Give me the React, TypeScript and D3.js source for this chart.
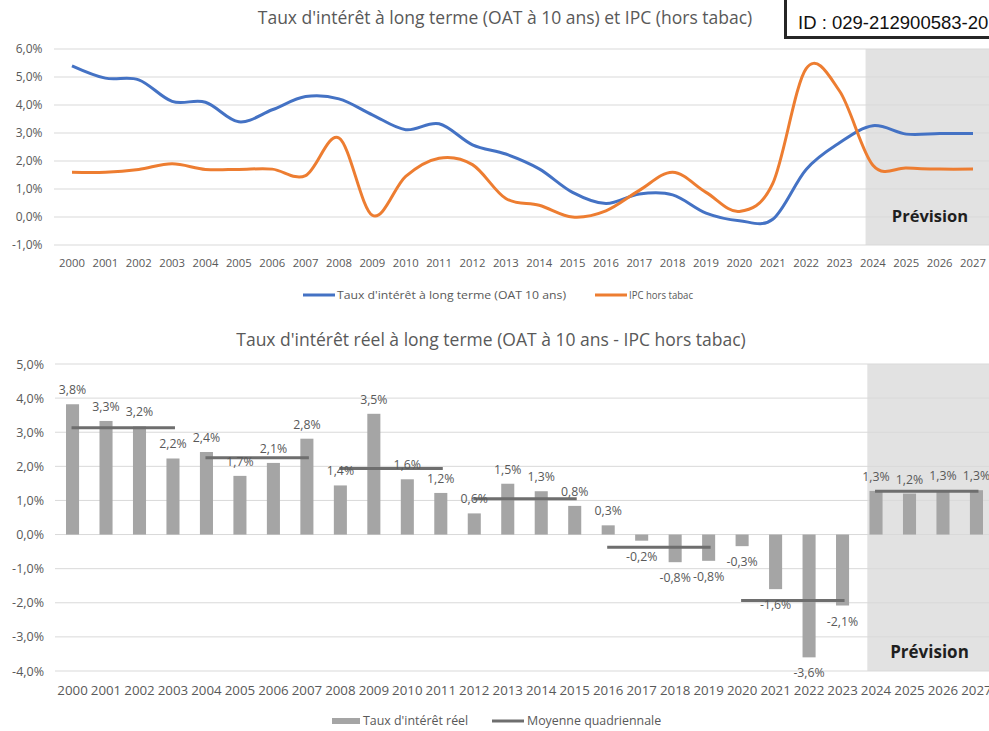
import React from 'react'
import * as d3 from 'd3'

// années (axe des abscisses commun aux deux graphiques)
const years = d3.range(2000, 2028).map(String)
const forecastStart = '2024'

// graphique du haut : OAT 10 ans et IPC hors tabac (en %)
const oat = [5.4, 4.96, 4.9, 4.13, 4.1, 3.4, 3.83, 4.3, 4.22, 3.65, 3.12, 3.33, 2.58, 2.25, 1.72, 0.88, 0.48, 0.82, 0.79, 0.14, -0.13, -0.08, 1.7, 2.65, 3.26, 2.96, 2.98, 2.98]
const ipc = [1.6, 1.6, 1.7, 1.9, 1.7, 1.7, 1.71, 1.48, 2.82, 0.06, 1.45, 2.1, 1.87, 0.66, 0.42, 0.0, 0.22, 0.95, 1.6, 0.88, 0.2, 1.2, 5.3, 4.5, 1.85, 1.75, 1.71, 1.71]
const topTicks = [-1, 0, 1, 2, 3, 4, 5, 6]

// graphique du bas : taux réel et moyenne sur 4 ans
const reel = [3.82, 3.33, 3.17, 2.23, 2.42, 1.72, 2.1, 2.81, 1.44, 3.54, 1.62, 1.22, 0.62, 1.49, 1.27, 0.84, 0.27, -0.18, -0.81, -0.77, -0.34, -1.6, -3.6, -2.08, 1.28, 1.2, 1.3, 1.3]
const moyenne = [3.13, 2.25, 1.94, 1.05, -0.37, -1.93, 1.27]
const bottomTicks = [-4, -3, -2, -1, 0, 1, 2, 3, 4, 5]

const TXT = '#595959'
const GRID = '#d9d9d9'
const SHADE = '#e2e2e2'
const FONT = "'Open Sans', sans-serif"

const pct = (v: number) => v.toFixed(1).replace('.', ',') + '%'

const TopChart: React.FC = () => {
    const x = d3.scaleBand().domain(years).range([55.3, 989.7])
    const cx = (d: string) => (x(d) || 0) + x.bandwidth() / 2
    const y = d3.scaleLinear().domain([-1, 6]).range([245, 49])
    const line = d3
        .line<number>()
        .x((_, i) => cx(years[i]))
        .y((d) => y(d))
        .curve(d3.curveCatmullRom.alpha(0))
    const shadeX = (x(forecastStart) || 0) + x.step() * 0.28

    return (
        <g>
            <text x={505} y={24} textAnchor="middle" fontSize={17.5} fill={TXT} fontFamily={FONT}>
                Taux d'intérêt à long terme (OAT à 10 ans) et IPC (hors tabac)
            </text>
            <rect x={shadeX} y={y(6)} width={989 - shadeX} height={y(-1) - y(6)} fill={SHADE} />
            {topTicks.map((t) => (
                <g key={t}>
                    <line x1={54} x2={989} y1={y(t)} y2={y(t)} stroke={GRID} strokeWidth={1} />
                    <text x={42.5} y={y(t) + 4.3} textAnchor="end" fontSize={12} fill={TXT} fontFamily={FONT}>
                        {pct(t)}
                    </text>
                </g>
            ))}
            {years.map((d) => (
                <text key={d} x={cx(d)} y={267} textAnchor="middle" fontSize={11.3} fill={TXT} fontFamily={FONT}>
                    {d}
                </text>
            ))}
            <text x={930} y={222} textAnchor="middle" fontSize={16.5} fontWeight="bold" fill="#1f1f1f" fontFamily={FONT}>
                Prévision
            </text>
            <path d={line(oat) || ''} fill="none" stroke="#4472c4" strokeWidth={3} />
            <path d={line(ipc) || ''} fill="none" stroke="#ed7d31" strokeWidth={3} />

            {/* légende */}
            <line x1={303} x2={335} y1={295} y2={295} stroke="#4472c4" strokeWidth={3} />
            <text x={337} y={299} fontSize={11.5} fill={TXT} fontFamily={FONT} textLength={229} lengthAdjust="spacingAndGlyphs">
                Taux d'intérêt à long terme (OAT 10 ans)
            </text>
            <line x1={595} x2={627} y1={295} y2={295} stroke="#ed7d31" strokeWidth={3} />
            <text x={629} y={299} fontSize={11.5} fill={TXT} fontFamily={FONT} textLength={64} lengthAdjust="spacingAndGlyphs">
                IPC hors tabac
            </text>
        </g>
    )
}

const BottomChart: React.FC = () => {
    const x = d3.scaleBand().domain(years).range([55.8, 993.2])
    const cx = (d: string) => (x(d) || 0) + x.bandwidth() / 2
    const barW = x.step() * 0.39
    const y = d3.scaleLinear().domain([-4, 5]).range([671, 364])
    const shadeX = (x(forecastStart) || 0) + x.step() * 0.24

    return (
        <g>
            <text x={491} y={346} textAnchor="middle" fontSize={17.5} fill={TXT} fontFamily={FONT}>
                Taux d'intérêt réel à long terme (OAT à 10 ans - IPC hors tabac)
            </text>
            <rect x={shadeX} y={y(5)} width={989 - shadeX} height={y(-4) - y(5)} fill={SHADE} />
            {bottomTicks.map((t) => (
                <g key={t}>
                    <line x1={55} x2={989} y1={y(t)} y2={y(t)} stroke={GRID} strokeWidth={1} />
                    <text x={44} y={y(t) + 4.5} textAnchor="end" fontSize={12.5} fill={TXT} fontFamily={FONT}>
                        {pct(t)}
                    </text>
                </g>
            ))}
            {reel.map((v, i) => (
                <rect
                    key={years[i]}
                    x={cx(years[i]) - barW / 2}
                    y={y(Math.max(0, v))}
                    width={barW}
                    height={Math.abs(y(v) - y(0))}
                    fill="#a5a5a5"
                />
            ))}
            {moyenne.map((m, k) => (
                <line
                    key={k}
                    x1={cx(years[k * 4]) - 1}
                    x2={cx(years[k * 4 + 3]) + 2}
                    y1={y(m)}
                    y2={y(m)}
                    stroke="#6e6e6e"
                    strokeWidth={3}
                />
            ))}
            {reel.map((v, i) => (
                <text
                    key={years[i]}
                    x={cx(years[i])}
                    y={v >= 0 ? y(v) - 10 : y(v) + 20}
                    textAnchor="middle"
                    fontSize={12.3}
                    fill={TXT}
                    fontFamily={FONT}
                >
                    {pct(v)}
                </text>
            ))}
            {years.map((d) => (
                <text key={d} x={cx(d)} y={695} textAnchor="middle" fontSize={13.3} fill={TXT} fontFamily={FONT}>
                    {d}
                </text>
            ))}
            <text x={929.5} y={658} textAnchor="middle" fontSize={17} fontWeight="bold" fill="#1f1f1f" fontFamily={FONT}>
                Prévision
            </text>

            {/* légende */}
            <rect x={332} y={718} width={28} height={6} fill="#a5a5a5" />
            <text x={363} y={725} fontSize={12.4} fill={TXT} fontFamily={FONT}>
                Taux d'intérêt réel
            </text>
            <line x1={492} x2={524} y1={721} y2={721} stroke="#6e6e6e" strokeWidth={3} />
            <text x={527} y={725} fontSize={12.4} fill={TXT} fontFamily={FONT}>
                Moyenne quadriennale
            </text>
        </g>
    )
}

const App: React.FC = () => {
    return (
        <div style={{ position: 'absolute', left: 0, top: 0, width: 989, height: 731 }}>
            <svg width={989} height={731} viewBox="0 0 989 731" style={{ display: 'block', background: '#fff' }}>
                <TopChart />
                <BottomChart />
                <rect x={785.5} y={-5} width={220} height={42.5} fill="#fff" stroke="#262626" strokeWidth={3} />
                <text x={798} y={29} fontSize={18.5} fill="#111" fontFamily="'Liberation Sans', Arial, sans-serif">
                    ID : 029-212900583-20
                </text>
            </svg>
        </div>
    )
}

export default App
